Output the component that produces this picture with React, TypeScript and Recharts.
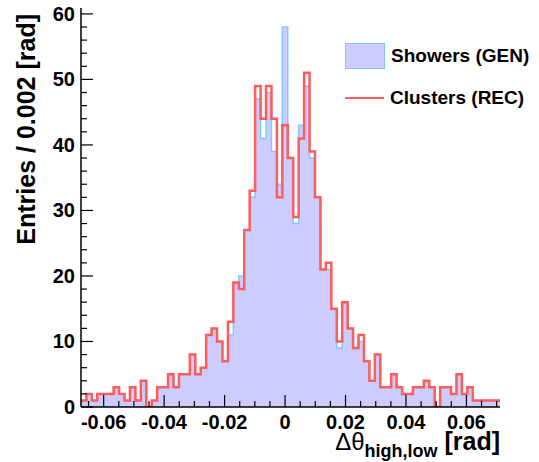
import React from "react";
import { ComposedChart, Area, Line, XAxis, YAxis } from "recharts";

// histogram binning (bin centred on 0)
const binWidth = 0.0018;
const firstBin = -37;

// counts per bin, first bin centre = firstBin * binWidth
const genCounts = [
  1, 2, 1, 2, 2, 2, 3, 2, 1, 3,
  1, 4, 0, 1, 3, 3, 5, 3, 5, 5,
  8, 5, 6, 11, 12, 10, 7, 11, 19, 20,
  27, 32, 47, 41, 48, 39, 34, 58, 38, 28,
  43, 49, 38, 32, 21, 21, 15, 9, 16, 12,
  9, 10, 7, 4, 8, 3, 3, 5, 3, 2,
  2, 3, 3, 4, 3, 0, 3, 3, 2, 5,
  2, 3, 1, 1, 1, 1, 1,
];
const recCounts = [
  1, 2, 1, 2, 2, 2, 3, 2, 1, 3,
  1, 4, 0, 1, 3, 3, 5, 3, 5, 5,
  8, 5, 6, 11, 12, 10, 7, 13, 19, 18,
  27, 33, 49, 44, 49, 44, 32, 43, 38, 29,
  41, 51, 39, 32, 21, 22, 15, 10, 16, 12,
  9, 11, 7, 4, 8, 3, 3, 5, 3, 2,
  2, 3, 3, 4, 3, 0, 3, 3, 2, 5,
  2, 3, 1, 1, 1, 1, 1,
];

const seriesNames = ["Showers (GEN)", "Clusters (REC)"];
const xLabels = [-0.06, -0.04, -0.02, 0, 0.02, 0.04, 0.06];
const yLabels = [0, 10, 20, 30, 40, 50, 60];
const yMax = 60.9;

const xMin = (firstBin - 0.5) * binWidth;
const xMax = (firstBin + genCounts.length - 0.5) * binWidth;

const data = genCounts.map((g, i) => ({
  x: (firstBin + i - 0.5) * binWidth,
  gen: g,
  rec: recCounts[i],
}));
data.push({
  x: xMax,
  gen: genCounts[genCounts.length - 1],
  rec: recCounts[recCounts.length - 1],
});

const xTicks: number[] = [];
for (let i = -13; i <= 14; i++) xTicks.push(Number((i * 0.005).toFixed(3)));
const yTicks: number[] = [];
for (let i = 0; i <= 30; i++) yTicks.push(i * 2);

const FONT = '"Liberation Sans", Arial, Helvetica, sans-serif';
const W = 539;
const H = 462;
const LEFT = 81;
const RIGHT = 39;
const TOP = 8;
const BOTTOM = 55;

const isMajorX = (v: number) => xLabels.some((l) => Math.abs(l - v) < 1e-6);
const isMajorY = (v: number) => yLabels.includes(v);
const fmtX = (v: number) => (Math.abs(v) < 1e-9 ? "0" : v.toFixed(2));

const BottomTick = (props: any) => {
  const { x, y, payload } = props;
  const major = isMajorX(payload.value);
  return (
    <g>
      <line x1={x} x2={x} y1={y} y2={y - (major ? 12 : 6)} stroke="#000" strokeWidth={1.2} />
      {major && (
        <text x={x} y={y + 22} textAnchor="middle" fontFamily={FONT} fontWeight="bold" fontSize={20} fill="#000">
          {fmtX(payload.value)}
        </text>
      )}
    </g>
  );
};

const TopTick = (props: any) => {
  const { x, y, payload } = props;
  const major = isMajorX(payload.value);
  return <line x1={x} x2={x} y1={y} y2={y + (major ? 12 : 6)} stroke="#000" strokeWidth={1.2} />;
};

const LeftTick = (props: any) => {
  const { x, y, payload } = props;
  const major = isMajorY(payload.value);
  return (
    <g>
      <line x1={x} x2={x + (major ? 12 : 6)} y1={y} y2={y} stroke="#000" strokeWidth={1.2} />
      {major && (
        <text x={x - 6} y={y + 7} textAnchor="end" fontFamily={FONT} fontWeight="bold" fontSize={20} fill="#000">
          {payload.value}
        </text>
      )}
    </g>
  );
};

const RightTick = (props: any) => {
  const { x, y, payload } = props;
  const major = isMajorY(payload.value);
  return <line x1={x} x2={x - (major ? 12 : 6)} y1={y} y2={y} stroke="#000" strokeWidth={1.2} />;
};

const XTitle = () => (
  <text x={W - RIGHT} y={450} textAnchor="end" fontFamily={FONT} fill="#000">
    <tspan fontSize={24}>Δθ</tspan>
    <tspan fontSize={18} fontWeight="bold" dy={7}>high,low</tspan>
    <tspan fontSize={25} fontWeight="bold" dy={-7}> [rad]</tspan>
  </text>
);

const YTitle = () => (
  <text
    x={35}
    y={14}
    transform="rotate(-90 35 14)"
    textAnchor="end"
    fontFamily={FONT}
    fontWeight="bold"
    fontSize={25}
    fill="#000"
  >
    Entries / 0.002 [rad]
  </text>
);

const HistLegend = () => (
  <div style={{ position: "absolute", left: 345, top: 43, fontFamily: FONT, fontWeight: "bold", fontSize: 19 }}>
    <div style={{ display: "flex", alignItems: "center", height: 26 }}>
      <div style={{ width: 38, height: 24, background: "#ccccff", border: "1px solid #80c8ff" }} />
      <span style={{ marginLeft: 6 }}>{seriesNames[0]}</span>
    </div>
    <div style={{ display: "flex", alignItems: "center", height: 26, marginTop: 16 }}>
      <div style={{ width: 39, height: 0, borderTop: "2.5px solid #ff5c5c" }} />
      <span style={{ marginLeft: 6 }}>{seriesNames[1]}</span>
    </div>
  </div>
);

export default function App() {
  return (
    <div style={{ position: "absolute", left: 0, top: 0, width: W, height: H, background: "#fff" }}>
      <ComposedChart width={W} height={H} data={data} margin={{ top: TOP, right: RIGHT, bottom: 0, left: 0 }}>
        <XAxis
          dataKey="x"
          type="number"
          domain={[xMin, xMax]}
          allowDataOverflow
          ticks={xTicks}
          interval={0}
          height={BOTTOM}
          tickSize={0}
          tickMargin={0}
          tickLine={false}
          tick={<BottomTick />}
          axisLine={{ stroke: "#000", strokeWidth: 1.5 }}
          label={<XTitle />}
        />
        <XAxis
          xAxisId="top"
          orientation="top"
          dataKey="x"
          type="number"
          domain={[xMin, xMax]}
          allowDataOverflow
          ticks={xTicks}
          interval={0}
          height={0}
          tickSize={0}
          tickMargin={0}
          tickLine={false}
          tick={<TopTick />}
          axisLine={{ stroke: "#000", strokeWidth: 1.5 }}
        />
        <YAxis
          type="number"
          domain={[0, yMax]}
          allowDataOverflow
          ticks={yTicks}
          interval={0}
          width={LEFT}
          tickSize={0}
          tickMargin={0}
          tickLine={false}
          tick={<LeftTick />}
          axisLine={{ stroke: "#000", strokeWidth: 1.5 }}
          label={<YTitle />}
        />
        <YAxis
          yAxisId="right"
          orientation="right"
          type="number"
          domain={[0, yMax]}
          allowDataOverflow
          ticks={yTicks}
          interval={0}
          width={0}
          tickSize={0}
          tickMargin={0}
          tickLine={false}
          tick={<RightTick />}
          axisLine={{ stroke: "#000", strokeWidth: 1.5 }}
        />
        <Area
          type="stepAfter"
          dataKey="gen"
          name={seriesNames[0]}
          fill="#ccccff"
          fillOpacity={1}
          stroke="#80c8ff"
          strokeWidth={1.5}
          baseValue={0}
          isAnimationActive={false}
        />
        <Line
          type="stepAfter"
          dataKey="rec"
          name={seriesNames[1]}
          xAxisId="top"
          yAxisId="right"
          stroke="#ff5c5c"
          strokeWidth={2.5}
          dot={false}
          activeDot={false}
          isAnimationActive={false}
        />
      </ComposedChart>
      <HistLegend />
    </div>
  );
}
